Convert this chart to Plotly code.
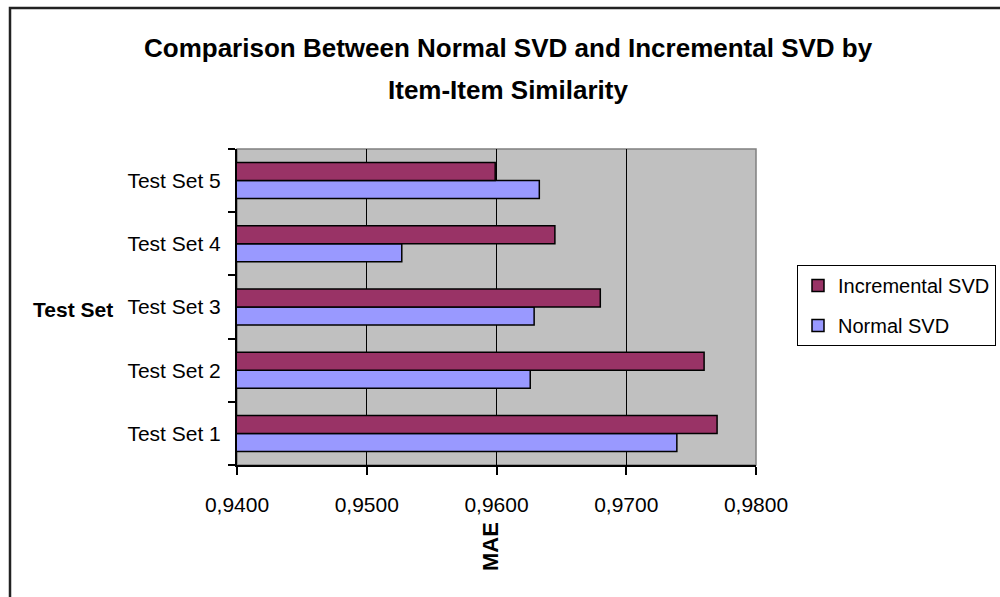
import plotly.graph_objects as go

categories = ["Test Set 1", "Test Set 2", "Test Set 3", "Test Set 4", "Test Set 5"]
normal_svd = [0.9739, 0.9626, 0.9629, 0.9527, 0.9633]
incremental_svd = [0.9770, 0.9760, 0.9680, 0.9645, 0.9599]
x_ticks = [0.94, 0.95, 0.96, 0.97, 0.98]

W, H = 1000, 597
L, R, T, B = 237, 244, 149, 132
pw, ph = W - L - R, H - T - B

def px(x):
    return (x - L) / pw

def py(y):
    return (H - B - y) / ph

FONT = "Liberation Sans, Arial, sans-serif"

fig = go.Figure()
fig.add_trace(go.Bar(
    y=categories, x=normal_svd, orientation="h", name="Normal SVD",
    marker=dict(color="#9999FF", line=dict(color="black", width=1.5)),
    legendgroup="n", legendrank=2,
))
fig.add_trace(go.Bar(
    y=categories, x=incremental_svd, orientation="h", name="Incremental SVD",
    marker=dict(color="#993366", line=dict(color="black", width=1.5)),
    legendgroup="i", legendrank=1,
))

fig.update_layout(
    width=W, height=H,
    margin=dict(l=L, r=R, t=T, b=B, autoexpand=False),
    paper_bgcolor="white",
    plot_bgcolor="#C0C0C0",
    barmode="group",
    bargap=0.43,
    bargroupgap=0,
    separators=",.",
    font=dict(family=FONT, color="black", size=21),
    showlegend=True,
    legend=dict(
        x=px(797), y=py(265), xanchor="left", yanchor="top",
        xref="paper", yref="paper",
        bordercolor="black", borderwidth=1, bgcolor="white",
        font=dict(size=20, family=FONT, color="black"),
        traceorder="grouped", tracegroupgap=11,
        itemwidth=30,
    ),
    xaxis=dict(
        range=[0.94, 0.98], tickvals=x_ticks, tickformat=".4f",
        showgrid=True, gridcolor="black", gridwidth=1,
        showline=True, linecolor="black", linewidth=2,
        ticks="outside", ticklen=8, tickwidth=1.5, tickcolor="black",
        ticklabelstandoff=12, zeroline=False,
        tickfont=dict(size=21),
    ),
    yaxis=dict(
        type="category", categoryorder="array", categoryarray=categories,
        showline=True, linecolor="black", linewidth=2,
        ticks="outside", ticklen=7, tickwidth=1.5, tickcolor="black",
        tickson="boundaries", showgrid=False, zeroline=False,
        ticklabelstandoff=10,
        tickfont=dict(size=21),
    ),
    shapes=[
        dict(type="rect", xref="paper", yref="paper", x0=0, x1=1, y0=0, y1=1,
             line=dict(color="#808080", width=1.5), layer="below"),
        dict(type="rect", xref="paper", yref="paper",
             x0=px(10), x1=px(1010), y0=py(8), y1=py(610),
             line=dict(color="#222222", width=2.5), fillcolor="rgba(0,0,0,0)",
             layer="above"),
    ],
    annotations=[
        dict(text="<b>Comparison Between Normal SVD and Incremental SVD by</b>",
             xref="paper", yref="paper", x=px(508), y=py(48),
             xanchor="center", yanchor="middle", showarrow=False,
             font=dict(size=26, family=FONT)),
        dict(text="<b>Item-Item Similarity</b>",
             xref="paper", yref="paper", x=px(508), y=py(90),
             xanchor="center", yanchor="middle", showarrow=False,
             font=dict(size=26, family=FONT)),
        dict(text="<b>MAE</b>", textangle=-90,
             xref="paper", yref="paper", x=px(490), y=py(547),
             xanchor="center", yanchor="middle", showarrow=False,
             font=dict(size=22, family=FONT)),
        dict(text="<b>Test Set</b>",
             xref="paper", yref="paper", x=px(115), y=py(309),
             xanchor="right", yanchor="middle", showarrow=False,
             font=dict(size=21, family=FONT)),
    ],
)

fig.write_html("out.html")
